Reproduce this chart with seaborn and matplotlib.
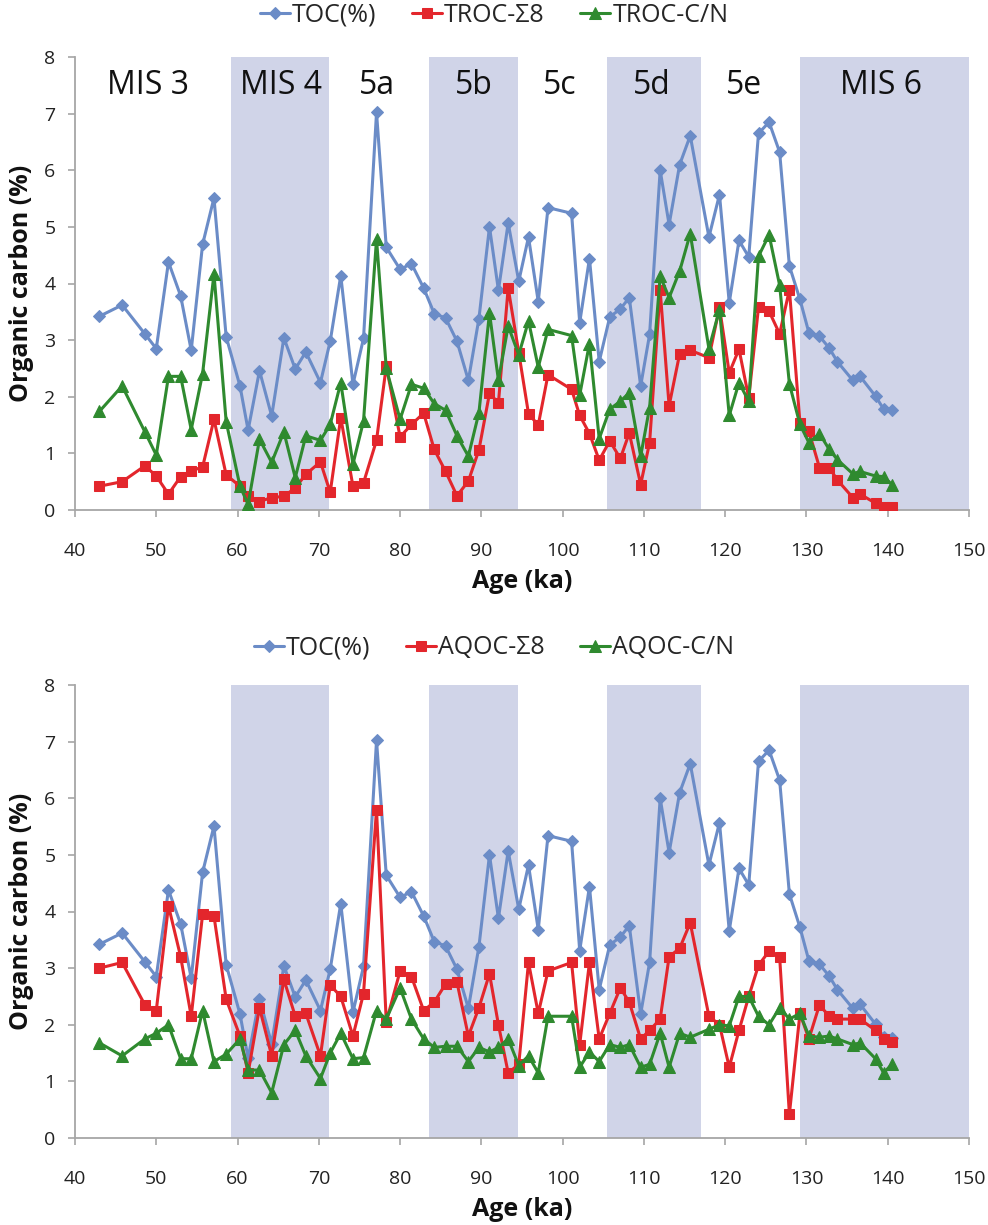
import matplotlib
matplotlib.use("Agg")
import matplotlib.pyplot as plt
import seaborn as sns
import pandas as pd
from matplotlib import font_manager

# ---------------- data ----------------
age = [43.0, 45.8, 48.6, 50.0, 51.5, 53.0, 54.3, 55.7, 57.1, 58.6,
       60.3, 61.3, 62.7, 64.2, 65.7, 67.1, 68.4, 70.2, 71.4, 72.7,
       74.2, 75.5, 77.1, 78.3, 80.0, 81.4, 82.9, 84.2, 85.6, 87.0,
       88.4, 89.7, 91.0, 92.1, 93.3, 94.6, 95.8, 97.0, 98.2, 101.1,
       102.1, 103.3, 104.5, 105.8, 107.1, 108.2, 109.6, 110.7, 112.0, 113.1,
       114.4, 115.7, 118.0, 119.3, 120.5, 121.7, 122.9, 124.1, 125.4, 126.7,
       127.9, 129.2, 130.3, 131.6, 132.8, 133.8, 135.7, 136.6, 138.5, 139.5,
       140.5]

toc = [3.42, 3.62, 3.11, 2.85, 4.38, 3.78, 2.82, 4.69, 5.51, 3.06,
       2.19, 1.41, 2.46, 1.66, 3.04, 2.49, 2.79, 2.25, 2.98, 4.14,
       2.22, 3.03, 7.02, 4.64, 4.25, 4.35, 3.92, 3.47, 3.39, 2.98,
       2.29, 3.38, 5.00, 3.88, 5.07, 4.04, 4.82, 3.68, 5.34, 5.24,
       3.31, 4.44, 2.62, 3.41, 3.55, 3.75, 2.19, 3.10, 6.00, 5.04,
       6.10, 6.61, 4.82, 5.57, 3.66, 4.76, 4.47, 6.65, 6.85, 6.32,
       4.31, 3.72, 3.13, 3.07, 2.86, 2.62, 2.29, 2.36, 2.01, 1.78,
       1.76]

troc_s8 = [0.42, 0.50, 0.78, 0.60, 0.28, 0.59, 0.69, 0.76, 1.60, 0.62,
           0.42, 0.25, 0.15, 0.22, 0.24, 0.39, 0.63, 0.85, 0.31, 1.63,
           0.42, 0.48, 1.23, 2.54, 1.29, 1.51, 1.71, 1.07, 0.68, 0.25,
           0.51, 1.06, 2.06, 1.89, 3.92, 2.78, 1.70, 1.50, 2.39, 2.13,
           1.67, 1.35, 0.88, 1.22, 0.91, 1.36, 0.45, 1.19, 3.88, 1.84,
           2.76, 2.82, 2.69, 3.58, 2.42, 2.84, 1.98, 3.58, 3.51, 3.11,
           3.89, 1.54, 1.39, 0.75, 0.75, 0.53, 0.22, 0.28, 0.12, 0.05,
           0.05]

troc_cn = [1.74, 2.19, 1.38, 0.97, 2.36, 2.36, 1.42, 2.41, 4.17, 1.56,
           0.42, 0.10, 1.25, 0.84, 1.38, 0.57, 1.31, 1.23, 1.51, 2.25,
           0.81, 1.57, 4.78, 2.50, 1.60, 2.22, 2.15, 1.88, 1.76, 1.31,
           0.95, 1.72, 3.48, 2.29, 3.25, 2.74, 3.34, 2.52, 3.19, 3.08,
           2.03, 2.94, 1.26, 1.78, 1.92, 2.07, 0.95, 1.81, 4.13, 3.75,
           4.22, 4.88, 2.85, 3.54, 1.67, 2.25, 1.92, 4.48, 4.86, 3.97,
           2.23, 1.51, 1.19, 1.35, 1.07, 0.89, 0.64, 0.68, 0.60, 0.59,
           0.45]

aqoc_s8 = [3.00, 3.10, 2.35, 2.25, 4.10, 3.20, 2.15, 3.95, 3.92, 2.45,
           1.80, 1.15, 2.30, 1.45, 2.80, 2.15, 2.20, 1.45, 2.70, 2.50,
           1.80, 2.55, 5.80, 2.05, 2.95, 2.85, 2.25, 2.40, 2.72, 2.75,
           1.80, 2.30, 2.90, 2.00, 1.15, 1.30, 3.10, 2.20, 2.95, 3.10,
           1.65, 3.10, 1.75, 2.20, 2.65, 2.40, 1.75, 1.90, 2.10, 3.20,
           3.35, 3.80, 2.15, 2.00, 1.25, 1.90, 2.50, 3.05, 3.30, 3.20,
           0.42, 2.20, 1.75, 2.35, 2.15, 2.10, 2.10, 2.10, 1.90, 1.75,
           1.70]

aqoc_cn = [1.68, 1.45, 1.75, 1.85, 2.00, 1.40, 1.40, 2.25, 1.35, 1.48,
           1.75, 1.20, 1.20, 0.80, 1.65, 1.90, 1.45, 1.05, 1.50, 1.85,
           1.40, 1.42, 2.25, 2.10, 2.65, 2.10, 1.75, 1.60, 1.62, 1.62,
           1.35, 1.60, 1.52, 1.60, 1.75, 1.28, 1.45, 1.15, 2.15, 2.15,
           1.25, 1.52, 1.35, 1.65, 1.60, 1.65, 1.25, 1.30, 1.85, 1.25,
           1.85, 1.78, 1.92, 2.00, 1.98, 2.50, 2.50, 2.15, 2.00, 2.30,
           2.10, 2.20, 1.80, 1.78, 1.80, 1.75, 1.65, 1.68, 1.40, 1.15,
           1.30]

band_start = [59.2, 83.6, 105.4, 129.2]
band_end = [71.3, 94.5, 117.0, 150.0]
stage_labels = ["MIS 3", "MIS 4", "5a", "5b", "5c", "5d", "5e", "MIS 6"]
stage_pos = [49.0, 65.3, 77.2, 89.1, 99.6, 111.0, 122.3, 139.2]
x_ticks = [40, 50, 60, 70, 80, 90, 100, 110, 120, 130, 140, 150]
y_ticks = [0, 1, 2, 3, 4, 5, 6, 7, 8]

top_names = ["TOC(%)", "TROC-\u03a38", "TROC-C/N"]
bot_names = ["TOC(%)", "AQOC-\u03a38", "AQOC-C/N"]

# ---------------- style ----------------
sns.set_theme(style="white")
names = {f.name for f in font_manager.fontManager.ttflist}
narrow = "Liberation Sans Narrow" if "Liberation Sans Narrow" in names else "Open Sans"
main = "Open Sans" if "Open Sans" in names else "DejaVu Sans"
plt.rcParams["font.family"] = [narrow, "DejaVu Sans"]

BLUE = "#6b8cc7"
RED = "#e3262c"
GREEN = "#2f8a2f"
SHADE = "#d0d4e8"
AXC = "#a6a6a6"

W, H = 988, 1225
fig = plt.figure(figsize=(W / 100, H / 100), dpi=100)


def px_axes(left, top, right, bottom):
    return fig.add_axes([left / W, 1 - bottom / H, (right - left) / W, (bottom - top) / H])


def panel(ax, s8, cn, labels, show_stages, legend_y):
    for a0, a1 in zip(band_start, band_end):
        ax.axvspan(a0, a1, ymin=0, ymax=1, color=SHADE, lw=0, zorder=0)
    df = pd.DataFrame({"age": age, "toc": toc, "s8": s8, "cn": cn})
    sns.lineplot(data=df, x="age", y="toc", ax=ax, color=BLUE, lw=2.2, marker="D",
                 markersize=6, markeredgecolor=BLUE, estimator=None, sort=False,
                 label=labels[0], zorder=3)
    sns.lineplot(data=df, x="age", y="s8", ax=ax, color=RED, lw=2.2, marker="s",
                 markersize=7.5, markeredgecolor=RED, estimator=None, sort=False,
                 label=labels[1], zorder=4)
    sns.lineplot(data=df, x="age", y="cn", ax=ax, color=GREEN, lw=2.2, marker="^",
                 markersize=8, markeredgecolor=GREEN, estimator=None, sort=False,
                 label=labels[2], zorder=5)
    handles, labs = ax.get_legend_handles_labels()
    if ax.get_legend() is not None:
        ax.get_legend().remove()
    fig.legend(handles, labs, loc="center", bbox_to_anchor=(0.5, 1 - legend_y / H),
               ncol=3, frameon=False, fontsize=18, handlelength=1.2,
               handletextpad=0.1, columnspacing=1.4)
    ax.set_xlim(40, 150)
    ax.set_ylim(0, 8)
    ax.set_xticks(x_ticks)
    ax.set_yticks(y_ticks)
    ax.set_xticklabels([str(t) for t in x_ticks])
    ax.set_yticklabels([str(t) for t in y_ticks])
    for sp in ["top", "right"]:
        ax.spines[sp].set_visible(False)
    for sp in ["left", "bottom"]:
        ax.spines[sp].set_color(AXC)
        ax.spines[sp].set_linewidth(1.3)
    ax.tick_params(axis="both", direction="out", length=5, width=1.2, color=AXC,
                   labelsize=14, labelcolor="#222222", left=True, bottom=True)
    ax.tick_params(axis="x", pad=18)
    ax.tick_params(axis="y", pad=9)
    ax.set_xlabel("Age (ka)", fontsize=18, fontweight="bold", family=[main, "DejaVu Sans"],
                  color="#111111")
    ax.xaxis.set_label_coords(0.5, -72 / 453, transform=ax.transAxes)
    ax.xaxis.label.set_va("center")
    ax.set_ylabel("Organic carbon (%)", fontsize=18, fontweight="bold",
                  family=[main, "DejaVu Sans"], color="#111111")
    ax.yaxis.set_label_coords(-53 / 894, 0.5)
    ax.yaxis.label.set_va("center")
    ax.set_facecolor("white")
    if show_stages:
        for lab, x in zip(stage_labels, stage_pos):
            ax.text(x, 7.5, lab, ha="center", va="center", fontsize=23,
                    family=[main, "DejaVu Sans"], color="#111111", zorder=6)


ax1 = px_axes(75, 57, 969, 510)
panel(ax1, troc_s8, troc_cn, top_names, True, 15)
ax2 = px_axes(75, 685, 969, 1138)
panel(ax2, aqoc_s8, aqoc_cn, bot_names, False, 648)

fig.savefig("out.png", dpi=100, facecolor="white")
